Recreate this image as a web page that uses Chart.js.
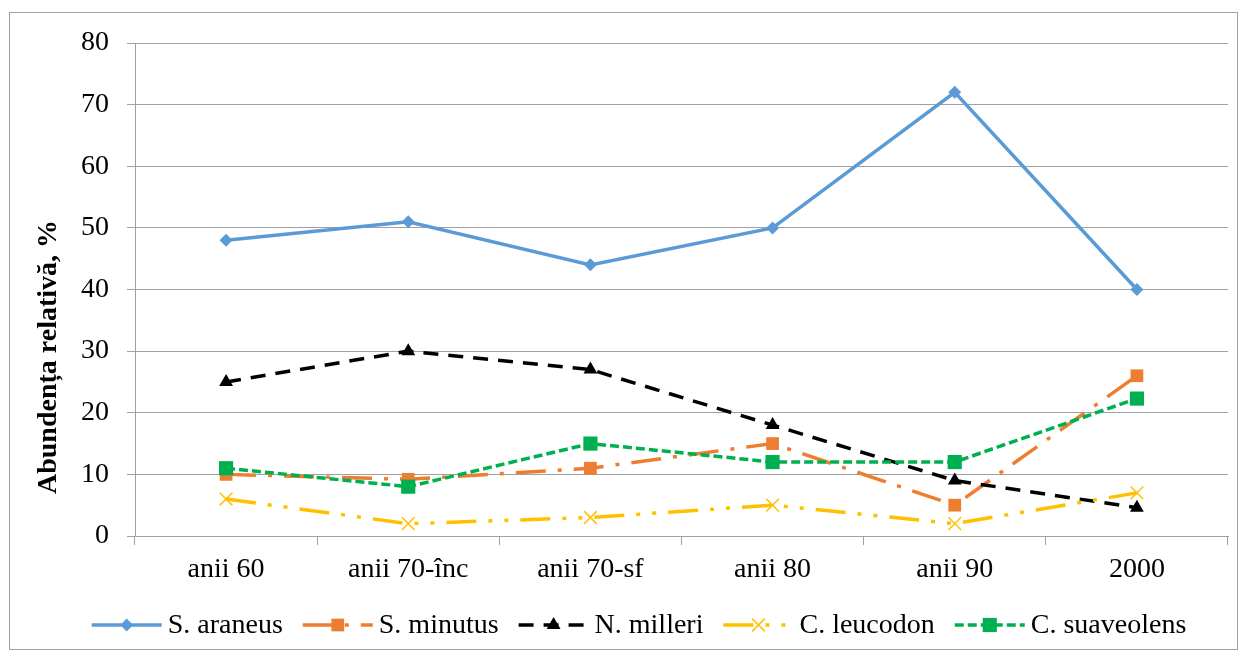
<!DOCTYPE html>
<html><head><meta charset="utf-8">
<script src="https://cdn.jsdelivr.net/npm/chart.js@4"></script>
<style>html,body{margin:0;padding:0;background:#fff}</style>
</head><body>
<canvas id="c" width="1246" height="657" style="width:1246px;height:657px;display:block"></canvas>
<script>
const categories = ['anii 60', 'anii 70-înc', 'anii 70-sf', 'anii 80', 'anii 90', '2000'];
const seriesNames = ['S. araneus', 'S. minutus', 'N. milleri', 'C. leucodon', 'C. suaveolens'];
const sAraneus = [48, 51, 44, 50, 72, 40];
const sMinutus = [10, 9.2, 11, 15, 5, 26];
const nMilleri = [25, 30, 27, 18, 9, 4.6];
const cLeucodon = [6, 2, 3, 5, 2, 7];
const cSuaveolens = [11, 8, 15, 12, 12, 22.3];
const yTickValues = [0, 10, 20, 30, 40, 50, 60, 70, 80];
const yTitle = 'Abundența relativă, %';

const FONT = '"Liberation Serif", "Times New Roman", serif';
const styles = [
  {color: '#5B9BD5', dash: [], point: 'rectRot', r: 6.5},
  {color: '#ED7D31', dash: [30, 12, 4, 12], point: 'rect', r: 9},
  {color: '#000000', dash: [15, 10], point: 'triangle', r: 8},
  {color: '#FFC000', dash: [30, 12, 4, 12, 4, 12], point: 'crossRot', r: 9},
  {color: '#00B050', dash: [9, 4], point: 'rect', r: 10}
];
const allData = [sAraneus, sMinutus, nMilleri, cLeucodon, cSuaveolens];

const datasets = allData.map((d, i) => ({
  label: seriesNames[i],
  data: d,
  borderColor: styles[i].color,
  backgroundColor: styles[i].color,
  borderWidth: 3.5,
  borderDash: styles[i].dash,
  pointStyle: styles[i].point,
  pointRadius: styles[i].r,
  pointHoverRadius: styles[i].r,
  pointBorderWidth: styles[i].point === 'crossRot' ? 1.5 : 0,
  pointBorderColor: styles[i].color,
  pointBackgroundColor: styles[i].color,
  tension: 0,
  fill: false,
  order: 4 - i
}));

const framePlugin = {
  id: 'frame',
  beforeDraw(chart) {
    const ctx = chart.ctx;
    ctx.save();
    ctx.fillStyle = '#fff';
    ctx.fillRect(0, 0, chart.width, chart.height);
    ctx.strokeStyle = '#A0A0A0';
    ctx.lineWidth = 1;
    ctx.strokeRect(9.5, 12.5, 1228, 637);
    ctx.restore();
  }
};

const yTitlePlugin = {
  id: 'yTitle',
  afterDraw(chart) {
    const ctx = chart.ctx;
    ctx.save();
    ctx.translate(49, 357);
    ctx.rotate(-Math.PI / 2);
    ctx.font = 'bold 28px ' + FONT;
    ctx.fillStyle = '#000';
    ctx.textAlign = 'center';
    ctx.textBaseline = 'middle';
    ctx.fillText(yTitle, 0, 0);
    ctx.restore();
  }
};

const legendPlugin = {
  id: 'customLegend',
  afterDraw(chart) {
    const ctx = chart.ctx;
    ctx.save();
    ctx.font = '28px ' + FONT;
    const lineLen = 70, gapText = 6, gapItem = 20;
    const widths = seriesNames.map(n => ctx.measureText(n).width);
    let total = 0;
    widths.forEach(w => total += lineLen + gapText + w);
    total += gapItem * (seriesNames.length - 1);
    let x = 639 - total / 2;
    const y = 625;
    seriesNames.forEach((name, i) => {
      const st = styles[i];
      ctx.strokeStyle = st.color;
      ctx.lineWidth = 3.5;
      ctx.setLineDash(st.dash);
      ctx.beginPath();
      ctx.moveTo(x, y);
      ctx.lineTo(x + lineLen, y);
      ctx.stroke();
      ctx.setLineDash([]);
      ctx.fillStyle = st.color;
      ctx.lineWidth = st.point === 'crossRot' ? 1.5 : 0.01;
      Chart.helpers.drawPoint(ctx, {pointStyle: st.point, radius: st.r, borderWidth: st.point === 'crossRot' ? 1.5 : 0}, x + lineLen / 2, y);
      ctx.fillStyle = '#000';
      ctx.textBaseline = 'middle';
      ctx.textAlign = 'left';
      ctx.fillText(name, x + lineLen + gapText, y + 1);
      x += lineLen + gapText + widths[i] + gapItem;
    });
    ctx.restore();
  }
};

new Chart(document.getElementById('c'), {
  type: 'line',
  data: {labels: categories, datasets},
  plugins: [framePlugin, legendPlugin, yTitlePlugin],
  options: {
    responsive: false,
    animation: false,
    layout: {padding: {top: 43, right: 18, bottom: 0, left: 0}},
    plugins: {legend: {display: false}, tooltip: {enabled: false}},
    scales: {
      x: {
        offset: true,
        grid: {offset: true, drawOnChartArea: false, drawTicks: true, tickLength: 9, color: '#A0A0A0'},
        border: {color: '#A0A0A0', width: 1},
        ticks: {color: '#000', font: {family: FONT, size: 28}, padding: 8, maxRotation: 0},
        afterFit(scale) { scale.height = 121; }
      },
      y: {
        min: 0, max: 80,
        afterBuildTicks(scale) { scale.ticks = yTickValues.map(v => ({value: v})); },
        grid: {color: '#A0A0A0', tickLength: 8, drawTicks: true},
        border: {color: '#A0A0A0', width: 1},
        ticks: {color: '#000', font: {family: FONT, size: 28}, padding: 18},
        title: {display: false},
        afterFit(scale) { scale.width = 135; }
      }
    }
  }
});
</script>
</body></html>
